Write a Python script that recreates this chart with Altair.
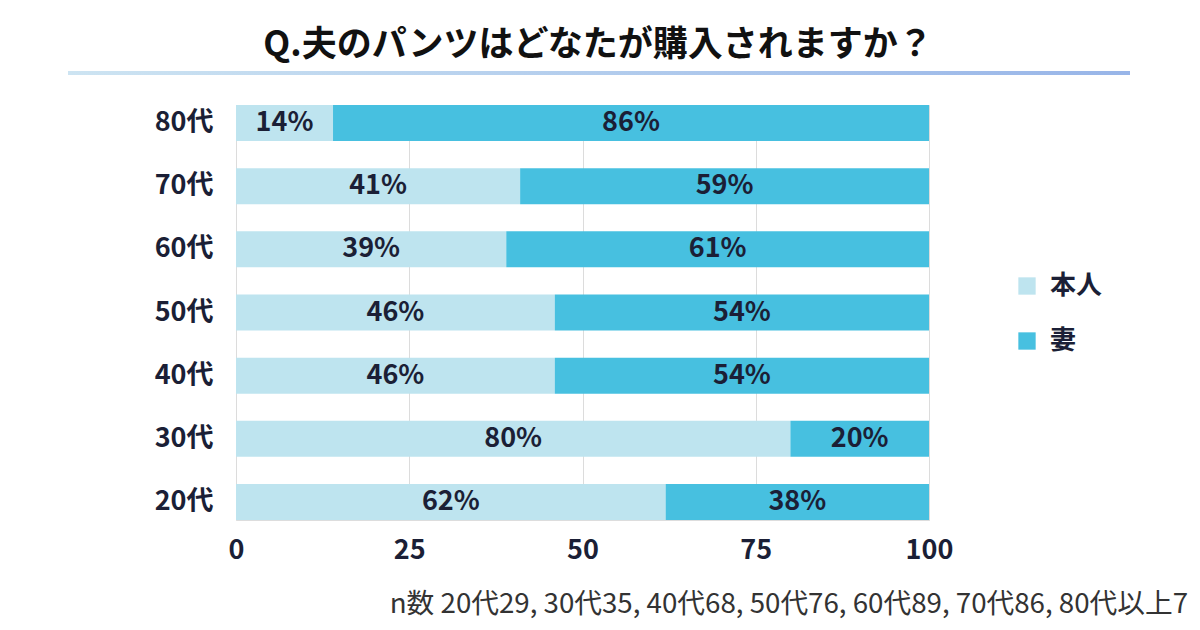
import altair as alt
import pandas as pd

ages = ["20代", "30代", "40代", "50代", "60代", "70代", "80代"]
honnin = [62, 80, 46, 46, 39, 41, 14]
tsuma = [38, 20, 54, 54, 61, 59, 86]
series = ["本人", "妻"]
colors = ["#bee4ef", "#47c0e0"]
ticks = [0, 25, 50, 75, 100]
title_text = "Q.夫のパンツはどなたが購入されますか？"
note_text = "n数 20代29, 30代35, 40代68, 50代76, 60代89, 70代86, 80代以上7"

rows = []
for a, h, t in zip(ages, honnin, tsuma):
    rows.append({"age": a, "series": series[0], "value": h, "ord": 0})
    rows.append({"age": a, "series": series[1], "value": t, "ord": 1})
df = pd.DataFrame(rows)

FONT = "Noto Sans CJK JP"
NAVY = "#1b1f36"

base = alt.Chart(df).transform_stack(
    stack="value", groupby=["age"], as_=["x0", "x1"], sort=[alt.SortField("ord")]
).transform_calculate(mid="(datum.x0+datum.x1)/2", label="datum.value + '%'")

y = alt.Y(
    "age:N",
    sort=ages[::-1],
    scale=alt.Scale(paddingInner=0.43, paddingOuter=0),
    axis=alt.Axis(
        title=None, labelFont=FONT, labelFontSize=27, labelFontWeight="bold",
        labelColor=NAVY, labelPadding=23, ticks=False, domain=False,
    ),
)

xaxis = alt.Axis(
    values=ticks, title=None, labelFont=FONT, labelFontSize=27,
    labelFontWeight="bold", labelColor=NAVY, labelPadding=17,
    labelFlush=False, labelBound=False,
    ticks=False, domain=False, grid=True, gridColor="#dcdcdc",
)

bars = base.mark_bar().encode(
    x=alt.X("x0:Q", scale=alt.Scale(domain=[0, 100], nice=False), axis=xaxis),
    x2="x1:Q",
    y=y,
    color=alt.Color(
        "series:N",
        sort=series,
        scale=alt.Scale(domain=series, range=colors),
        legend=alt.Legend(
            title=None, orient="none", legendX=778, legendY=168,
            symbolType="square", symbolSize=300, symbolStrokeWidth=0,
            labelFont=FONT, labelFontSize=26, labelFontWeight="bold",
            labelColor=NAVY, rowPadding=29, labelOffset=10,
        ),
    ),
    order=alt.Order("ord:Q"),
)

labels = base.mark_text(
    font=FONT, fontSize=27, fontWeight="bold", color=NAVY, baseline="middle"
).encode(x=alt.X("mid:Q", axis=xaxis), y=y, text="label:N")

title = alt.Chart(pd.DataFrame({"t": [title_text]})).mark_text(
    font=FONT, fontSize=35, fontWeight="bold", color="#111111", baseline="middle", align="center"
).encode(x=alt.value(362), y=alt.value(-60), text="t:N")

underline = alt.Chart(pd.DataFrame({"a": [0]})).mark_rect(
    color=alt.Gradient(
        gradient="linear",
        stops=[alt.GradientStop(color="#cde4f2", offset=0),
               alt.GradientStop(color="#98b5e8", offset=1)],
        x1=0, x2=1, y1=0, y2=0,
    )
).encode(x=alt.value(-168), x2=alt.value(894), y=alt.value(-34), y2=alt.value(-30))

note = alt.Chart(pd.DataFrame({"t": [note_text]})).mark_text(
    font=FONT, fontSize=27.7, color="#333333", baseline="middle", align="right"
).encode(x=alt.value(952), y=alt.value(500), text="t:N")

chart = alt.layer(bars, labels, title, underline, note).properties(
    width=693, height=415,
    autosize=alt.AutoSizeParams(type="none"),
    padding={"left": 228, "top": 97, "right": 263, "bottom": 102},
).configure_view(stroke=None).configure(background="white")

chart.save("out.html", embed_options={"renderer": "svg", "actions": False})
